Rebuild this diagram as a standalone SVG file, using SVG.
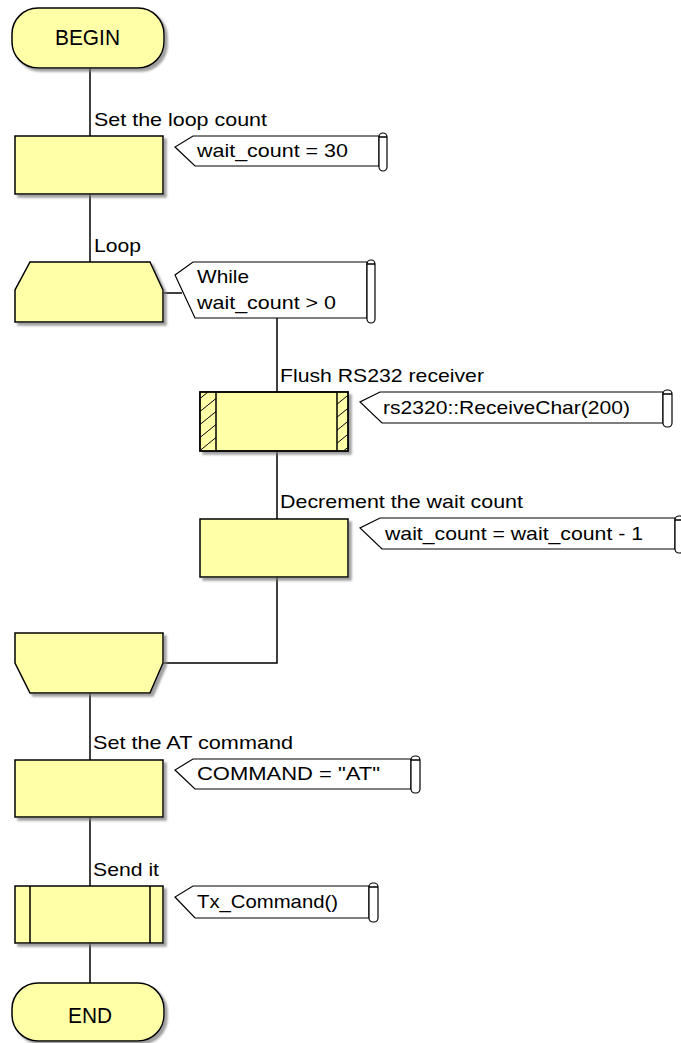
<svg xmlns="http://www.w3.org/2000/svg" width="681" height="1043" viewBox="0 0 681 1043">
<style>
.n{fill:#FFFFA8;stroke:#000;stroke-width:1.5;filter:url(#sh)}
.c{fill:#fff;stroke:#000;stroke-width:1.2}
.w{fill:none;stroke:#000;stroke-width:1.5}
text{font-family:"Liberation Sans",Arial,sans-serif;fill:#000}
.l{font-size:19px}
.t{font-size:22px}
</style>
<defs>
<filter id="sh" x="-10%" y="-10%" width="130%" height="130%">
<feDropShadow dx="3" dy="3" stdDeviation="1" flood-color="#777" flood-opacity="0.7"/>
</filter>
<pattern id="hatch" patternUnits="userSpaceOnUse" width="16" height="13" x="0" y="392">
<rect width="16" height="13" fill="#FFFFA8"/>
<path d="M0,13 L16,0" stroke="#000" stroke-width="1"/>
</pattern>
</defs>
<g id="connectors" class="w">
<path d="M90,68 V136"/>
<path d="M90,194 V262"/>
<path d="M163,293 H182"/>
<path d="M277,318 V392"/>
<path d="M277,451 V519"/>
<path d="M277,577 V663 H163"/>
<path d="M90,693 V760"/>
<path d="M90,817 V886"/>
<path d="M90,943 V983"/>
</g>
<g id="begin">
<rect class="n" x="12" y="8" width="152" height="60" rx="26"/>
<text class="t" x="55" y="45" textLength="65" lengthAdjust="spacingAndGlyphs">BEGIN</text>
</g>
<g id="set-loop-count">
<text class="l" x="94" y="126" textLength="173" lengthAdjust="spacingAndGlyphs">Set the loop count</text>
<rect class="n" x="15" y="136" width="148" height="58"/>
<path class="c" d="M379,136 H193 L175,147 L195,166 H379 Z"/>
<rect class="c" x="379" y="133" width="8" height="38" rx="4"/>
<path class="w" d="M379,137 H387" stroke-width="1"/>
<text class="l" x="197" y="157" textLength="151" lengthAdjust="spacingAndGlyphs">wait_count = 30</text>
</g>
<g id="loop-start">
<text class="l" x="94" y="252" textLength="47" lengthAdjust="spacingAndGlyphs">Loop</text>
<path class="n" d="M30,262 H150 L163,290 V322 H15 V290 Z"/>
<path class="c" d="M367,262 H193 L175,275 L195,318 H367 Z"/>
<rect class="c" x="367" y="260" width="8" height="63" rx="4"/>
<path class="w" d="M367,264 H375" stroke-width="1"/>
<text class="l" x="197" y="283" textLength="52" lengthAdjust="spacingAndGlyphs">While</text>
<text class="l" x="197" y="309" textLength="139" lengthAdjust="spacingAndGlyphs">wait_count &gt; 0</text>
</g>
<g id="flush">
<text class="l" x="280" y="382" textLength="204" lengthAdjust="spacingAndGlyphs">Flush RS232 receiver</text>
<rect class="n" x="200" y="392" width="148" height="59"/>
<rect x="200.75" y="392.75" width="15.5" height="57.5" fill="url(#hatch)"/>
<rect x="337" y="392.75" width="10.25" height="57.5" fill="url(#hatch)"/>
<rect x="200" y="392" width="148" height="59" fill="none" stroke="#000" stroke-width="1.5"/>
<path class="w" d="M216,392 V451 M337,392 V451"/>
<path class="c" d="M663,392 H380 L360,402 L382,423 H663 Z"/>
<rect class="c" x="663" y="390" width="9" height="37" rx="4"/>
<path class="w" d="M663,394 H672" stroke-width="1"/>
<text class="l" x="383" y="414" textLength="247" lengthAdjust="spacingAndGlyphs">rs2320::ReceiveChar(200)</text>
</g>
<g id="decrement">
<text class="l" x="280" y="508" textLength="243" lengthAdjust="spacingAndGlyphs">Decrement the wait count</text>
<rect class="n" x="200" y="519" width="148" height="58"/>
<path class="c" d="M675,518 H380 L360,528 L382,549 H675 Z"/>
<rect class="c" x="675" y="516" width="9" height="37" rx="4"/>
<path class="w" d="M675,520 H684" stroke-width="1"/>
<text class="l" x="385" y="540" textLength="258" lengthAdjust="spacingAndGlyphs">wait_count = wait_count - 1</text>
</g>
<g id="loop-end">
<path class="n" d="M15,633 H163 V663 L150,693 H30 L15,663 Z"/>
</g>
<g id="set-at">
<text class="l" x="93" y="749" textLength="200" lengthAdjust="spacingAndGlyphs">Set the AT command</text>
<rect class="n" x="15" y="760" width="148" height="57"/>
<path class="c" d="M411,759 H193 L175,770 L195,789 H411 Z"/>
<rect class="c" x="411" y="756" width="9" height="37" rx="4"/>
<path class="w" d="M411,760 H420" stroke-width="1"/>
<text class="l" x="197" y="780" textLength="183" lengthAdjust="spacingAndGlyphs">COMMAND = "AT"</text>
</g>
<g id="send-it">
<text class="l" x="93" y="876" textLength="66" lengthAdjust="spacingAndGlyphs">Send it</text>
<rect class="n" x="15" y="886" width="148" height="57"/>
<path class="w" d="M30,886 V943 M150,886 V943"/>
<path class="c" d="M369,886 H193 L175,897 L195,918 H369 Z"/>
<rect class="c" x="369" y="883" width="9" height="39" rx="4"/>
<path class="w" d="M369,887 H378" stroke-width="1"/>
<text class="l" x="197" y="908" textLength="141" lengthAdjust="spacingAndGlyphs">Tx_Command()</text>
</g>
<g id="end">
<rect class="n" x="12" y="983" width="152" height="58" rx="26"/>
<text class="t" x="68" y="1023" textLength="44" lengthAdjust="spacingAndGlyphs">END</text>
</g>
</svg>
